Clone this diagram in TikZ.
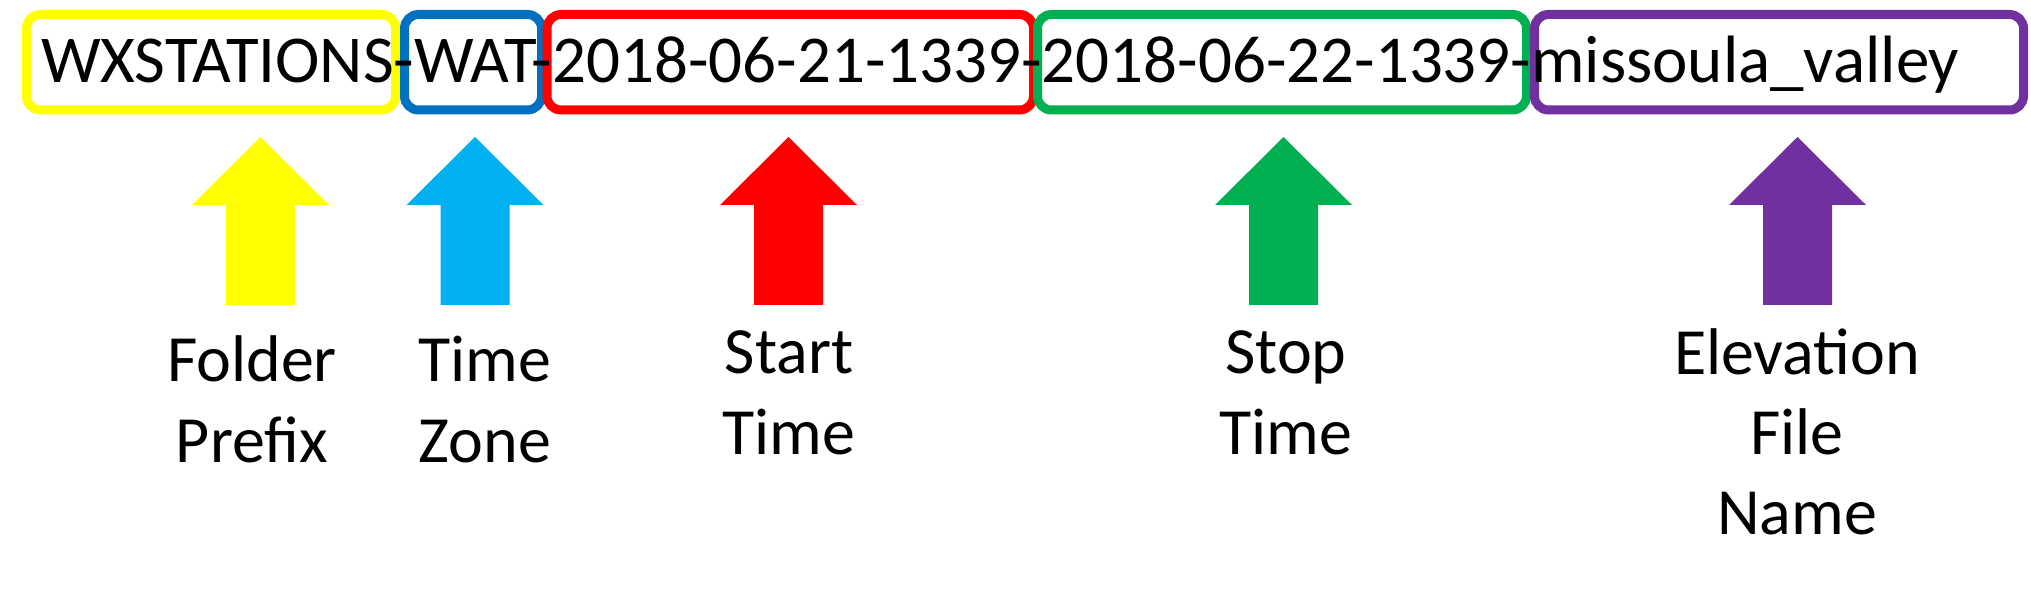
\documentclass[tikz,border=0pt]{standalone}
\usepackage{fontspec}
\setmainfont{Carlito}
\definecolor{cYellow}{HTML}{FFFF00}
\definecolor{cBlue}{HTML}{0070C0}
\definecolor{cSky}{HTML}{00B0F0}
\definecolor{cRed}{HTML}{FF0000}
\definecolor{cGreen}{HTML}{00B050}
\definecolor{cPurple}{HTML}{7030A0}
\begin{document}
\begin{tikzpicture}[x=0.5pt,y=-0.5pt,
  segbox/.style={draw=#1, line width=4.5pt, rounded corners=7pt, minimum height=47.75pt, inner sep=0pt},
  piece/.style={inner sep=0pt, outer sep=0pt, anchor=base west, font=\fontsize{33.5pt}{40pt}\selectfont},
  lbl/.style={inner sep=0pt, align=center, anchor=base, font=\fontsize{33pt}{40pt}\selectfont},
  blockarrow/.pic={\fill (0,0) -- (68.5,68) -- (34.5,68) -- (34.5,168) -- (-34.5,168) -- (-34.5,68) -- (-68.5,68) -- cycle;}
]
\useasboundingbox[fill=white] (0,0) rectangle (2031,593);
% boxes
\node[segbox=cYellow, minimum width=184.5pt] (byel) at (211,62.25) {};
\node[segbox=cBlue, minimum width=68.5pt] (bblu) at (473,62.25) {};
\node[segbox=cRed, minimum width=243.25pt] (bred) at (790.25,62.25) {};
\node[segbox=cGreen, minimum width=244.5pt] (bgrn) at (1282,62.25) {};
\node[segbox=cPurple, minimum width=244.5pt] (bpur) at (1779,62.25) {};
% file name text
\node[piece] (t1) at (41.5,83) {WXSTATIONS-};
\node[piece] (t2) at (t1.base east) {WAT-};
\node[piece] (t3) at (t2.base east) {2018-06-21-1339-};
\node[piece] (t4) at (t3.base east) {2018-06-22-1339-};
\node[piece] (t5) at (t4.base east) {missoula\_valley};
% arrows
\pic[color=cYellow] at (260.5,137) {blockarrow};
\pic[color=cSky] at (475,137) {blockarrow};
\pic[color=cRed] at (788.5,137) {blockarrow};
\pic[color=cGreen] at (1283.5,137) {blockarrow};
\pic[color=cPurple] at (1797.5,137) {blockarrow};
% labels (anchored at the baseline of the last line)
\node[lbl] (l1) at (252,462) {Folder\\Prefix};
\node[lbl] (l2) at (485,462) {Time\\Zone};
\node[lbl] (l3) at (789,454) {Start\\Time};
\node[lbl] (l4) at (1286,454) {Stop\\Time};
\node[lbl] (l5) at (1797,534) {Elevation\\File\\Name};
\end{tikzpicture}
\end{document}
